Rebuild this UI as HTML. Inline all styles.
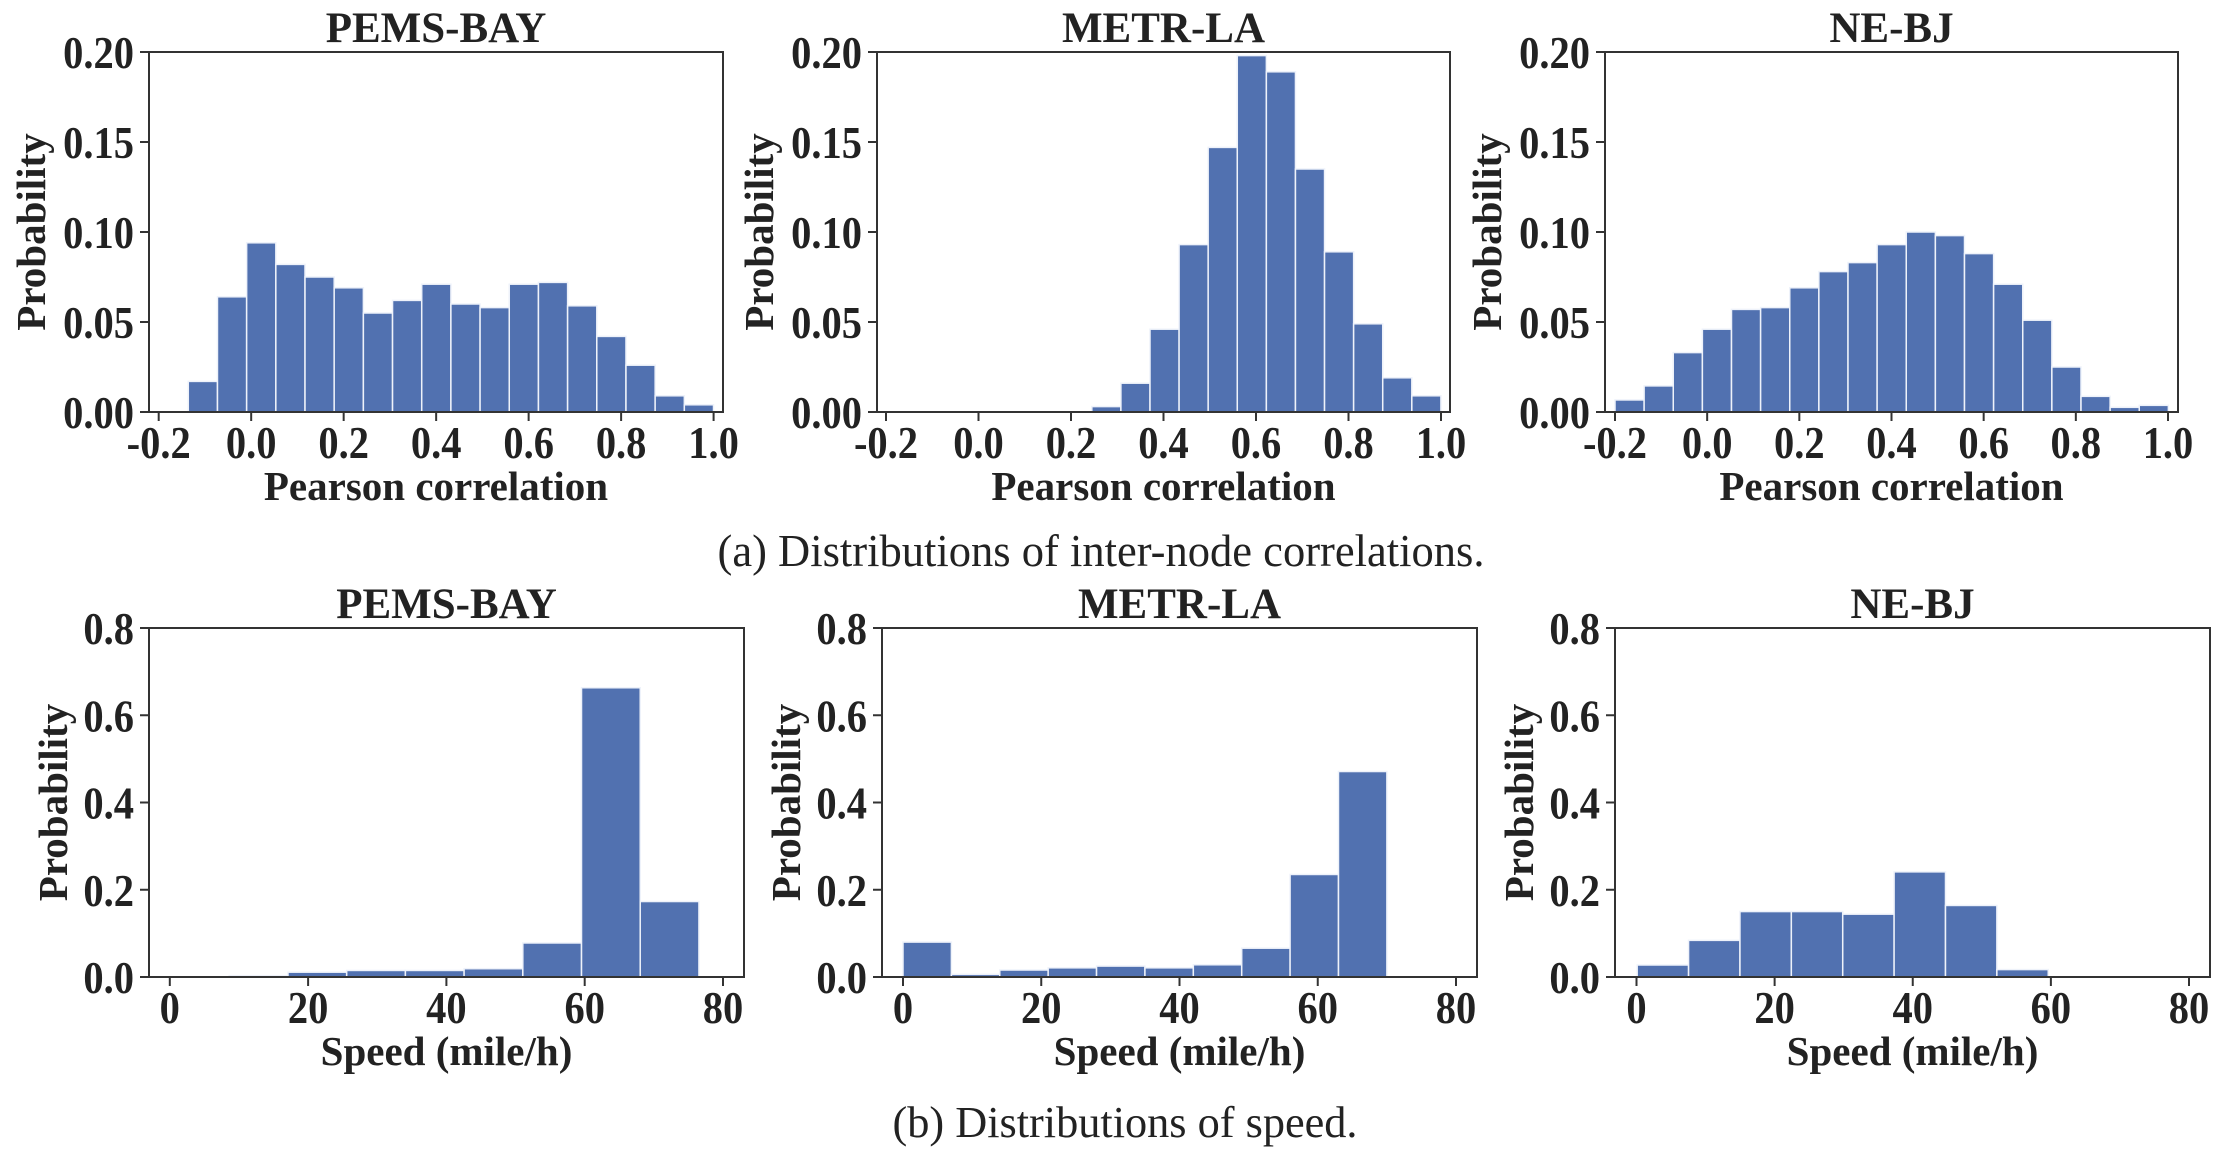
<!DOCTYPE html>
<html><head><meta charset="utf-8">
<style>
html,body{margin:0;padding:0;background:#fff;}
svg{display:block;}
text{font-family:"Liberation Serif",serif;fill:#222;}
.b{font-weight:bold;}
</style></head>
<body>
<svg id="fig" width="2230" height="1152" viewBox="0 0 2230 1152" xmlns="http://www.w3.org/2000/svg">
<rect width="2230" height="1152" fill="#fff"/>
<text x="1101" y="566" font-size="46" text-anchor="middle" textLength="767" lengthAdjust="spacingAndGlyphs">(a) Distributions of inter-node correlations.</text>
<text x="1125" y="1137" font-size="44" text-anchor="middle" textLength="465" lengthAdjust="spacingAndGlyphs">(b) Distributions of speed.</text>
</svg>
<script>
// ---- data ----
const titles = ["PEMS-BAY", "METR-LA", "NE-BJ"];
const corrTicks = [-0.2, 0.0, 0.2, 0.4, 0.6, 0.8, 1.0];
const corrTickLabels = ["-0.2", "0.0", "0.2", "0.4", "0.6", "0.8", "1.0"];
const corrYTicks = [0, 0.05, 0.10, 0.15, 0.20];
const corrYTickLabels = ["0.00", "0.05", "0.10", "0.15", "0.20"];
const speedTicks = [0, 20, 40, 60, 80];
const speedTickLabels = ["0", "20", "40", "60", "80"];
const speedYTicks = [0, 0.2, 0.4, 0.6, 0.8];
const speedYTickLabels = ["0.0", "0.2", "0.4", "0.6", "0.8"];

const corrPemsStart = -0.136, corrPemsWidth = 0.0631;
const corrPems = [0.017, 0.064, 0.094, 0.082, 0.075, 0.069, 0.055, 0.062, 0.071, 0.060, 0.058, 0.071, 0.072, 0.059, 0.042, 0.026, 0.009, 0.004];
const corrMetrStart = 0.245, corrMetrWidth = 0.0629;
const corrMetr = [0.003, 0.016, 0.046, 0.093, 0.147, 0.198, 0.189, 0.135, 0.089, 0.049, 0.019, 0.009];
const corrNebjStart = -0.2, corrNebjWidth = 0.0632;
const corrNebj = [0.0067, 0.0145, 0.033, 0.046, 0.057, 0.058, 0.069, 0.078, 0.083, 0.093, 0.100, 0.098, 0.088, 0.071, 0.051, 0.025, 0.0087, 0.0026, 0.0037];

const speedPemsStart = 8.6, speedPemsWidth = 8.49;
const speedPems = [0.003, 0.011, 0.015, 0.015, 0.019, 0.078, 0.663, 0.173];
const speedMetrStart = 0, speedMetrWidth = 7.0;
const speedMetr = [0.080, 0.006, 0.016, 0.021, 0.025, 0.021, 0.028, 0.066, 0.235, 0.471];
const speedNebjStart = 0.1, speedNebjWidth = 7.44;
const speedNebj = [0.0275, 0.084, 0.150, 0.150, 0.144, 0.241, 0.164, 0.017];

// ---- layout ----
const NS = "http://www.w3.org/2000/svg";
const svg = document.getElementById("fig");
function mk(tag, attrs, parent) {
  const e = document.createElementNS(NS, tag);
  for (const k in attrs) e.setAttribute(k, attrs[k]);
  (parent || svg).appendChild(e);
  return e;
}
function squeeze(t, f) {
  const w = t.getComputedTextLength();
  if (w > 0) { t.setAttribute("textLength", w * f); t.setAttribute("lengthAdjust", "spacingAndGlyphs"); }
}

const panels = [
  {id:"corr-pems", title:0, L:149, R:723, t0:158.7, t1:713.6, yT:52, yB:412, ymax:0.2, xt:corrTicks, xl:corrTickLabels, yt:corrYTicks, yl:corrYTickLabels, start:corrPemsStart, w:corrPemsWidth, vals:corrPems, xlab:"Pearson correlation", ylx:45},
  {id:"corr-metr", title:1, L:877, R:1450, t0:886, t1:1441, yT:52, yB:412, ymax:0.2, xt:corrTicks, xl:corrTickLabels, yt:corrYTicks, yl:corrYTickLabels, start:corrMetrStart, w:corrMetrWidth, vals:corrMetr, xlab:"Pearson correlation", ylx:773},
  {id:"corr-nebj", title:2, L:1605, R:2178, t0:1615, t1:2168, yT:52, yB:412, ymax:0.2, xt:corrTicks, xl:corrTickLabels, yt:corrYTicks, yl:corrYTickLabels, start:corrNebjStart, w:corrNebjWidth, vals:corrNebj, xlab:"Pearson correlation", ylx:1501},
  {id:"speed-pems", title:0, L:149, R:744, t0:169.8, t1:723, yT:628, yB:977, ymax:0.8, xt:speedTicks, xl:speedTickLabels, yt:speedYTicks, yl:speedYTickLabels, start:speedPemsStart, w:speedPemsWidth, vals:speedPems, xlab:"Speed (mile/h)", ylx:67},
  {id:"speed-metr", title:1, L:882, R:1477, t0:903, t1:1456, yT:628, yB:977, ymax:0.8, xt:speedTicks, xl:speedTickLabels, yt:speedYTicks, yl:speedYTickLabels, start:speedMetrStart, w:speedMetrWidth, vals:speedMetr, xlab:"Speed (mile/h)", ylx:800},
  {id:"speed-nebj", title:2, L:1615, R:2210, t0:1636.5, t1:2189, yT:628, yB:977, ymax:0.8, xt:speedTicks, xl:speedTickLabels, yt:speedYTicks, yl:speedYTickLabels, start:speedNebjStart, w:speedNebjWidth, vals:speedNebj, xlab:"Speed (mile/h)", ylx:1533}
];

panels.forEach(p => {
  const g = mk("g", {});
  
  
  const xa = p.xt[0], xb = p.xt[p.xt.length - 1];
  const X = v => p.t0 + (v - xa) / (xb - xa) * (p.t1 - p.t0);
  const Y = v => p.yB - v / p.ymax * (p.yB - p.yT);
  p.vals.forEach((v, i) => {
    const x0 = X(p.start + i * p.w), x1 = X(p.start + (i + 1) * p.w);
    const r = mk("rect", {x:x0, y:Y(v), width:x1 - x0, height:p.yB - Y(v), fill:"#5171b0", stroke:"#eef2fa", "stroke-width":1.5}, g);
    
    
  });
  const fr = mk("rect", {x:p.L, y:p.yT, width:p.R - p.L, height:p.yB - p.yT, fill:"none", stroke:"#333", "stroke-width":2}, g);
  
  
  p.xt.forEach((t, i) => {
    mk("line", {x1:X(t), x2:X(t), y1:p.yB, y2:p.yB + 9, stroke:"#333", "stroke-width":2}, g);
    const tx = mk("text", {x:X(t), y:p.yB + 46, "font-size":46, "text-anchor":"middle", class:"b"}, g);
    tx.textContent = p.xl[i];
    
    
    squeeze(tx, 0.88);
  });
  p.yt.forEach((t, i) => {
    mk("line", {x1:p.L - 9, x2:p.L, y1:Y(t), y2:Y(t), stroke:"#333", "stroke-width":2}, g);
    const ty = mk("text", {x:p.L - 15, y:Y(t) + 16, "font-size":46, "text-anchor":"end", class:"b"}, g);
    ty.textContent = p.yl[i];
    
    
    squeeze(ty, 0.88);
  });
  const cx = (p.L + p.R) / 2;
  const tt = mk("text", {x:cx, y:p.yT - 10, "font-size":43, "text-anchor":"middle", class:"b"}, g);
  tt.textContent = titles[p.title];
  
  
  const xl = mk("text", {x:cx, y:p.yB + 88, "font-size":41, "text-anchor":"middle", class:"b"}, g);
  xl.textContent = p.xlab;
  
  
  const cy = (p.yT + p.yB) / 2;
  const yl = mk("text", {x:p.ylx, y:cy, "font-size":41, "text-anchor":"middle", class:"b", transform:"rotate(-90 " + p.ylx + " " + cy + ")"}, g);
  yl.textContent = "Probability";
  
  
});
</script>
</body></html>
